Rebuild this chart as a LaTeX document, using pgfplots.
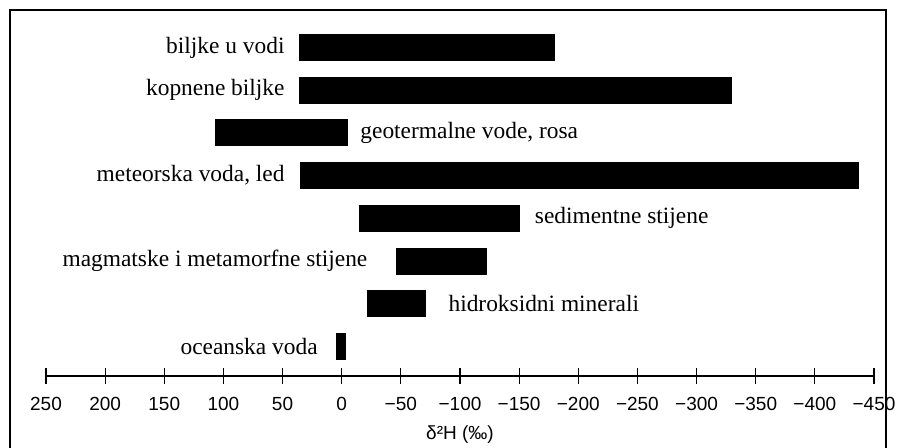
\documentclass[border=0pt]{standalone}
\usepackage{pgfplots}
\pgfplotsset{compat=1.18}
\usepackage{fontspec}
\setmainfont{Liberation Serif}
\setsansfont{Liberation Sans}
\tikzset{lab/.style={font=\fontsize{11.7}{14}\selectfont, inner sep=0pt},
  hbar/.style={draw=black, solid, line width=13.5pt, line cap=butt, mark=none}}
\begin{document}
\begin{tikzpicture}
\begin{axis}[
  name=ax,
  scale only axis,
  width=414pt, height=181.35pt,
  xmin=-450, xmax=250, x dir=reverse,
  ymin=0.309, ymax=8.8,
  axis x line*=bottom, axis y line=none,
  axis line style={line width=1.4pt},
  xtick={250,200,150,100,50,0,-50,-100,-150,-200,-250,-300,-350,-400,-450},
  xticklabels={250,200,150,100,50,0,−50,−100,−150,−200,−250,−300,−350,−400,−450},
  tick align=center, major tick length=8pt,
  tick style={line width=0.6pt, black},
  ticklabel style={font=\sffamily\fontsize{9.5}{11}\selectfont},
  xticklabel style={yshift=-3pt},
  xlabel={δ²H (‰)},
  xlabel style={font=\sffamily\fontsize{9.5}{11}\selectfont, yshift=-0.5pt},
  clip=false,
]
\addplot[hbar] coordinates {(36,8) (-180,8)};
\addplot[hbar] coordinates {(36,7) (-330,7)};
\addplot[hbar] coordinates {(107,6) (-5,6)};
\addplot[hbar] coordinates {(35,5) (-437,5)};
\addplot[hbar] coordinates {(-15,4) (-151,4)};
\addplot[hbar] coordinates {(-46,3) (-123,3)};
\addplot[hbar] coordinates {(-21,2) (-71,2)};
\addplot[hbar] coordinates {(4.5,1) (-4,1)};
\node[lab, anchor=east] at (axis cs:48,8) {biljke u vodi};
\node[lab, anchor=east] at (axis cs:48,7) {kopnene biljke};
\node[lab, anchor=west] at (axis cs:-15.5,6) {geotermalne vode, rosa};
\node[lab, anchor=east] at (axis cs:48,5) {meteorska voda, led};
\node[lab, anchor=west] at (axis cs:-163,4) {sedimentne stijene};
\node[lab, anchor=east] at (axis cs:-22,3) {magmatske i metamorfne stijene};
\node[lab, anchor=west] at (axis cs:-90,2) {hidroksidni minerali};
\node[lab, anchor=east] at (axis cs:20,1) {oceanska voda};
\end{axis}
\pgfresetboundingbox
\path[use as bounding box] ([xshift=-23pt,yshift=-36pt]ax.south west) rectangle ([xshift=425.5pt,yshift=188pt]ax.south west);
\draw[line width=1pt] ([xshift=-18pt,yshift=-50pt]ax.south west) -- ([xshift=-18pt,yshift=183pt]ax.south west) -- ([xshift=420pt,yshift=183pt]ax.south west) -- ([xshift=420pt,yshift=-50pt]ax.south west);
\end{tikzpicture}
\end{document}
